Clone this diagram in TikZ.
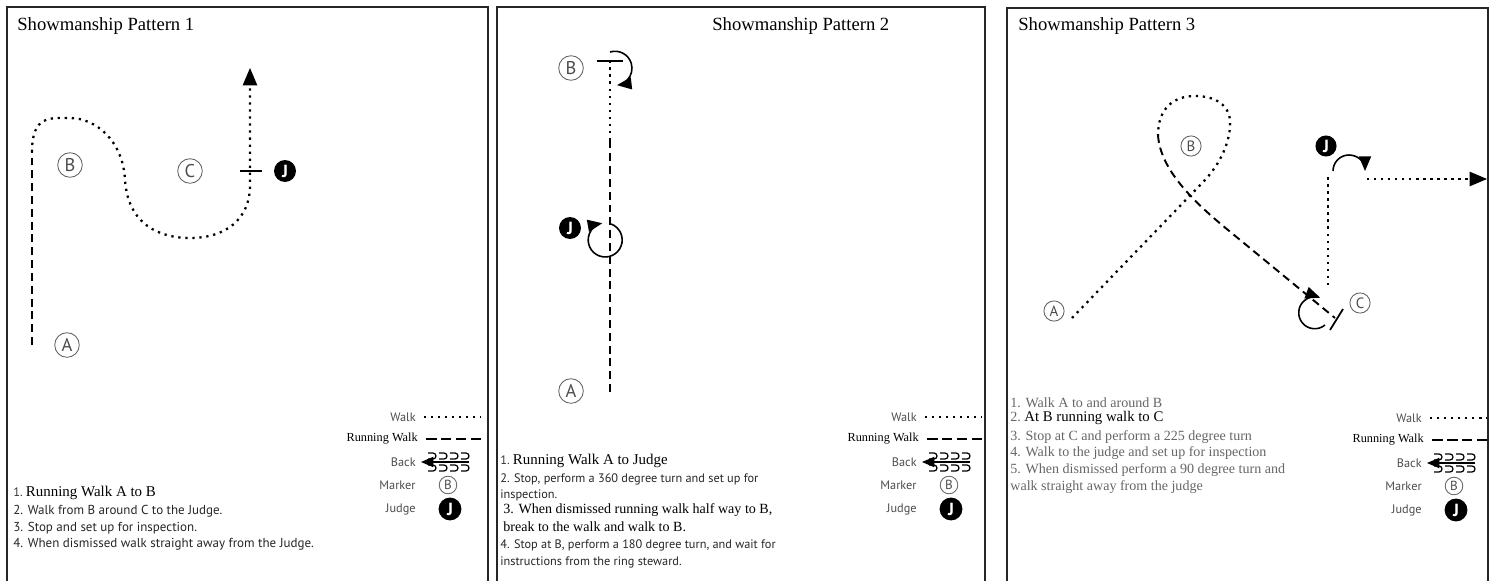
\documentclass[tikz,border=0pt]{standalone}
\usepackage{fontspec}
\setmainfont{Liberation Serif}
\newfontfamily\legendfont{PT Sans}
\usetikzlibrary{arrows}
\tikzstyle{frame} = [line width=0.8pt, draw=black!85]
\tikzstyle{title} = [anchor=west, inner sep=0pt, font=\fontsize{10.6}{12}\selectfont]
\tikzstyle{marker} = [circle, draw=black!60, line width=0.5pt, text=black!70, inner sep=0pt,
minimum size=14pt, font=\legendfont\fontsize{10.5}{10.5}\selectfont]
\tikzstyle{smallmarker} = [marker, minimum size=11.5pt, font=\legendfont\fontsize{8.5}{8.5}\selectfont]
\tikzstyle{judge} = [circle, fill=black, text=white, inner sep=0pt,
minimum size=12.5pt, font=\legendfont\bfseries\fontsize{10}{10}\selectfont]
\tikzstyle{walk} = [line width=1.3pt, dash pattern=on 1.3pt off 2.7pt]
\tikzstyle{runwalk} = [line width=1.1pt, dash pattern=on 4.5pt off 2.8pt]
\tikzstyle{turnarc} = [line width=0.9pt, ->]
\tikzstyle{tick} = [line width=1pt]
\tikzstyle{caption} = [anchor=west, inner sep=0pt, text=black!85, font=\legendfont\fontsize{7}{8}\selectfont]
\tikzstyle{serifcaption} = [anchor=west, inner sep=0pt, font=\fontsize{8}{9}\selectfont]
\tikzstyle{graycaption} = [anchor=west, inner sep=0pt, text=black!60, font=\fontsize{8}{9}\selectfont]
\tikzstyle{legendlabel} = [anchor=east, inner sep=0pt, text=black!70, font=\legendfont\fontsize{7}{8}\selectfont]
\tikzset{>={triangle 45}}
\newcommand{\bignum}[2]{{\legendfont\color{black!80}\fontsize{7}{8}\selectfont #1}~{\rmfamily\color{black}\fontsize{8.5}{9}\selectfont #2}}
\newcommand{\legendbox}[3]{ %
  % Key of line styles, labels ending at x = #1, first row at y = #2
  \begin{scope}[shift={(#1,#2)}]
    \node[legendlabel] (#3walk) at (0,0) {Walk};
    \coordinate (#3wa) at (8,0);
    \coordinate (#3wb) at (65,0);
    \draw[walk, line width=0.9pt] (#3wa) -- (#3wb);
    \node[legendlabel, text=black, font=\fontsize{7}{8}\selectfont] (#3run) at (2,22) {Running Walk};
    \coordinate (#3ra) at (10,22);
    \coordinate (#3rb) at (66,22);
    \draw[runwalk, line width=0.9pt, dash pattern=on 6pt off 2.5pt] (#3ra) -- (#3rb);
    \node[legendlabel] (#3back) at (0,45) {Back};
    \coordinate (#3ba) at (5,45);
    \coordinate (#3bb) at (53,45);
    \draw[line width=0.6pt, <-] (#3ba) -- (#3bb);
    \foreach \i in {0,...,3} {
      \draw[line width=0.7pt] (12+11*\i,36) -- ++(5,0) arc[start angle=-90, end angle=90, radius=3] -- ++(-5,0);
      \draw[line width=0.7pt] (12+11*\i,48) -- ++(5,0) arc[start angle=-90, end angle=90, radius=3] -- ++(-5,0);
    }
    \node[legendlabel] (#3mark) at (0,68) {Marker};
    \node[marker, minimum size=10pt, font=\legendfont\fontsize{7.5}{7.5}\selectfont] (#3m) at (32,68) {B};
    \node[legendlabel] (#3judge) at (0,92) {Judge};
    \node[judge, minimum size=13pt] (#3j) at (34,92) {J};
  \end{scope}
}

\begin{document}
\begin{tikzpicture}[x=0.02cm, y=-0.02cm]
  \useasboundingbox (0,0) rectangle (1493,581);
  \draw[frame] (7,581) |- (488,7) -- (488,581);
  \draw[frame] (497,581) |- (985,7) -- (985,581);
  \draw[frame] (1007,581) |- (1488,8) -- (1488,581);

  % Pattern 1
  \node[title] (t1) at (17,26) {Showmanship Pattern 1};
  \node[marker] (a1) at (67,345) {A};
  \node[marker] (b1) at (70,165) {B};
  \node[marker] (c1) at (190,171) {C};
  \node[judge] (j1) at (285,171) {J};
  \coordinate (s1) at (32,345);
  \coordinate (k1) at (32,152);
  \coordinate (e1) at (250,68);
  \draw[runwalk] (s1) -- (k1);
  \draw[walk, ->] (k1) .. controls (32,115) and (50,118) .. (70,118)
    .. controls (95,118) and (123,140) .. (125,180)
    .. controls (128,225) and (160,238) .. (190,238)
    .. controls (225,238) and (250,220) .. (250,185) -- (e1);
  \draw[tick] (240,171) -- (262,171);

  \node[caption] (p1s1) at (13,493) {\bignum{1.}{Running Walk A to B}};
  \node[caption, font=\legendfont\fontsize{7.4}{8}\selectfont] (p1s2) at (13,511) {2. Walk from B around C to the Judge.};
  \node[caption, font=\legendfont\fontsize{7.4}{8}\selectfont] (p1s3) at (13,528) {3. Stop and set up for inspection.};
  \node[caption, font=\legendfont\fontsize{7.4}{8}\selectfont] (p1s4) at (13,544) {4. When dismissed walk straight away from the Judge.};
  \legendbox{416}{417}{p1}

  % Pattern 2
  \node[title] (t2) at (712,26) {Showmanship Pattern 2};
  \node[marker] (b2) at (571,68) {B};
  \node[judge] (j2) at (570,228) {J};
  \node[marker] (a2) at (571,391) {A};
  \coordinate (s2) at (610,392);
  \coordinate (h2) at (610,140);
  \coordinate (e2) at (610,61);
  \draw[runwalk] (s2) -- (h2);
  \draw[walk] (h2) -- (e2);
  \draw[tick] (597,61) -- (623,61);
  \draw[turnarc] (610,52) arc[start angle=-107, end angle=83, radius=17];
  \draw[turnarc] (611,224) arc[start angle=-430, end angle=-100, radius=17];

  \node[caption] (p2s1) at (500,461) {\bignum{1.}{Running Walk A to Judge}};
  \node[caption] (p2s2) at (500,479) {2. Stop, perform a 360 degree turn and set up for};
  \node[caption] (p2s3) at (500,495) {inspection.};
  \node[serifcaption] (p2s4) at (503,510) {3. When dismissed running walk half way to B,};
  \node[serifcaption] (p2s5) at (503,527) {break to the walk and walk to B.};
  \node[caption] (p2s6) at (500,545) {4. Stop at B, perform a 180 degree turn, and wait for};
  \node[caption] (p2s7) at (500,562) {instructions from the ring steward.};
  \legendbox{917}{417}{p2}

  % Pattern 3
  \node[title] (t3) at (1018,26) {Showmanship Pattern 3};
  \node[smallmarker] (b3) at (1191,146) {B};
  \node[judge, minimum size=12pt] (j3) at (1326,146) {J};
  \node[smallmarker] (a3) at (1054,311) {A};
  \node[smallmarker] (c3) at (1360,303) {C};
  \coordinate (s3) at (1072,318);
  \coordinate (l3) at (1158,135);
  \coordinate (e3) at (1335,318);
  \draw[walk] (s3) -- (1205,180) .. controls (1225,158) and (1231,135) .. (1230,120)
    .. controls (1228,103) and (1213,96) .. (1195,96)
    .. controls (1172,96) and (1158,110) .. (l3);
  \draw[runwalk] (l3) .. controls (1160,170) and (1195,203) .. (1228,230) -- (e3);
  \draw[tick] (1343,309) -- (1330,330);
  \draw[turnarc] (1325,325) arc[start angle=50, end angle=290, radius=16];
  \coordinate (v3) at (1328,285);
  \coordinate (w3) at (1328,173);
  \draw[walk] (v3) -- (w3);
  \draw[turnarc] (1333,171) arc[start angle=180, end angle=360, radius=16];
  \coordinate (x3) at (1367,179);
  \coordinate (y3) at (1487,179);
  \draw[walk, ->] (x3) -- (y3);

  \node[graycaption] (p3s1) at (1010,403) {1. Walk A to and around B};
  \node[graycaption] (p3s2) at (1010,418) {2.\ {\color{black}\fontsize{8.4}{9}\selectfont At B running walk to C}};
  \node[graycaption] (p3s3) at (1010,437) {3. Stop at C and perform a 225 degree turn};
  \node[graycaption] (p3s4) at (1010,453) {4. Walk to the judge and set up for inspection};
  \node[graycaption] (p3s5) at (1010,470) {5. When dismissed perform a 90 degree turn and};
  \node[graycaption] (p3s6) at (1010,487) {walk straight away from the judge};
  \legendbox{1422}{418}{p3}
\end{tikzpicture}
\end{document}
